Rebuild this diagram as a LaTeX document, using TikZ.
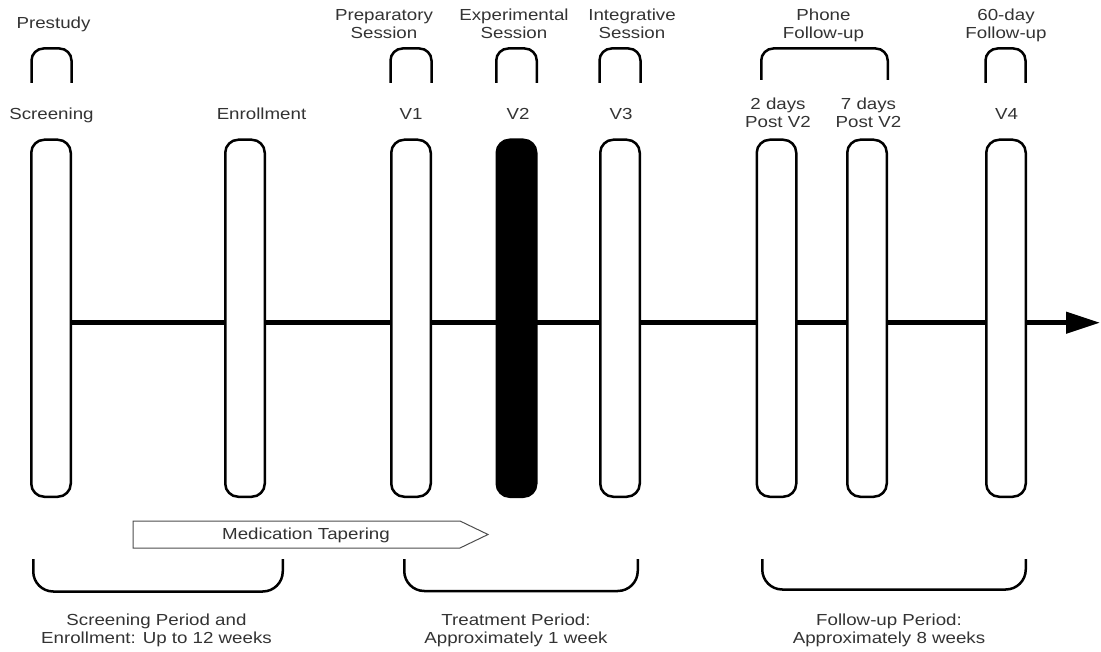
\documentclass[tikz,border=0pt]{standalone}
\usepackage{fontspec}
\setmainfont{Liberation Sans}[FakeStretch=1.17]
\usetikzlibrary{arrows.meta,calc}
\definecolor{txt}{HTML}{333333}
\definecolor{tapline}{HTML}{4D4D4D}
\tikzset{
  pill/.style={draw, line width=2.5pt, rounded corners=13pt, minimum width=39.5pt,
    minimum height=357pt, fill=white, inner sep=0pt},
  pillfill/.style={pill, fill=black},
  bracket/.style={line width=2.5pt, rounded corners=12pt},
  lowbracket/.style={line width=2.5pt, rounded corners=20pt},
  lbl/.style={text=txt, font=\fontsize{16}{17.5}\selectfont, align=center, inner sep=0pt, anchor=base},
  timeline/.style={line width=4.5pt, -{Triangle[length=34pt,width=21pt]}},
  taper/.style={draw=tapline, line width=1pt, fill=white}
}
\begin{document}
\begin{tikzpicture}[x=1pt,y=-1pt]
\useasboundingbox (0,0) rectangle (1101,652);
% timeline
\coordinate (tend) at (1100,322.7);
\coordinate (tstart) at (71,322.7);
\draw[timeline] (tstart) -- (tend);
% pills
\node[pill] (scr) at (51,318.25) {};
\node[pill] (enr) at (245,318.25) {};
\node[pill] (v1) at (411,318.25) {};
\node[pillfill] (v2) at (516.5,318.25) {};
\node[pill] (v3) at (620,318.25) {};
\node[pill] (d2) at (776.5,318.25) {};
\node[pill] (d7) at (867,318.25) {};
\node[pill] (v4) at (1006,318.25) {};
% top brackets
\draw[bracket] (31.5,83) -- (31.5,48.5) -- (71.5,48.5) -- (71.5,83);
\draw[bracket] (390.5,83) -- (390.5,48.5) -- (431.5,48.5) -- (431.5,83);
\draw[bracket] (496.25,83) -- (496.25,48.5) -- (536.75,48.5) -- (536.75,83);
\draw[bracket] (599.5,83) -- (599.5,48.5) -- (640.5,48.5) -- (640.5,83);
\draw[bracket] (761.25,80) -- (761.25,48.5) -- (887.75,48.5) -- (887.75,80);
\draw[bracket] (985.5,83) -- (985.5,48.5) -- (1025.5,48.5) -- (1025.5,83);
% top labels (base = baseline of last line)
\node[lbl] (pre) at (53.5,29) {Prestudy};
\node[lbl] (prep) at (384,38.5) {Preparatory\\Session};
\node[lbl] (exp) at (514,38.5) {Experimental\\Session};
\node[lbl] (integ) at (632,38.5) {Integrative\\Session};
\node[lbl] (phone) at (823.5,38.5) {Phone\\Follow-up};
\node[lbl] (sixty) at (1006,38.5) {60-day\\Follow-up};
% visit labels
\node[lbl] (lscr) at (51.5,119.5) {Screening};
\node[lbl] (lenr) at (261.5,119.5) {Enrollment};
\node[lbl] (lv1) at (411,119.5) {V1};
\node[lbl] (lv2) at (518,119.5) {V2};
\node[lbl] (lv3) at (621,119.5) {V3};
\node[lbl] (l2d) at (778,127.5) {2 days\\Post V2};
\node[lbl] (l7d) at (868.5,127.5) {7 days\\Post V2};
\node[lbl] (lv4) at (1006.5,119.5) {V4};
% medication tapering
\draw[taper] (133,521) -- (460,521) -- (488,534.5) -- (460,548) -- (133,548) -- cycle;
\node[lbl] (med) at (306,539.5) {Medication Tapering};
% bottom brackets
\draw[lowbracket] (33.25,559) -- (33.25,591.5) -- (282.75,591.5) -- (282.75,559);
\draw[lowbracket] (404.25,559) -- (404.25,591) -- (637.75,591) -- (637.75,559);
\draw[lowbracket] (762.25,559) -- (762.25,589.5) -- (1025.75,589.5) -- (1025.75,559);
% bottom labels
\node[lbl] (bs) at (156.5,643) {Screening Period and\\Enrollment: Up to 12 weeks};
\node[lbl] (bt) at (516,643) {Treatment Period:\\Approximately 1 week};
\node[lbl] (bf) at (889,643) {Follow-up Period:\\Approximately 8 weeks};
\end{tikzpicture}
\end{document}
